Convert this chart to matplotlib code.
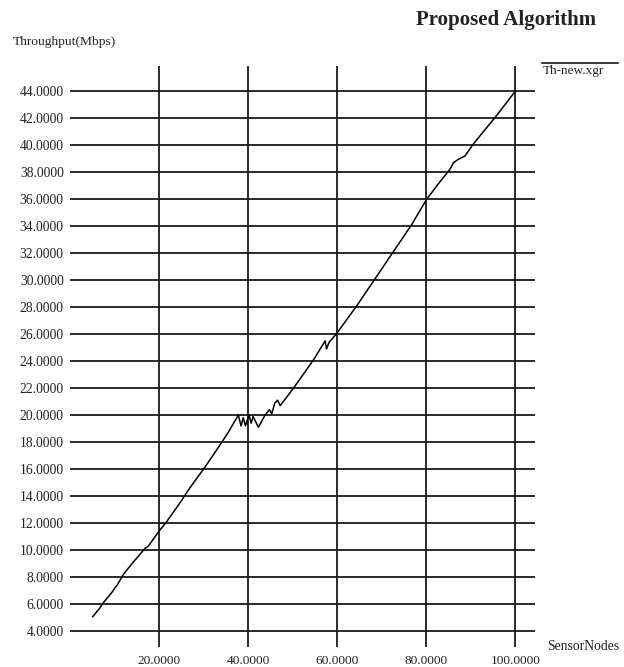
import matplotlib
matplotlib.use("Agg")
import matplotlib.pyplot as plt
from matplotlib.lines import Line2D

# Th-new.xgr trace: sensor nodes vs throughput
nodes = [5.1, 6.7, 7.5, 9.5, 10.1, 10.6, 12.0, 14.2, 16.8, 17.2, 17.6, 20.0, 21.7,
         24.7, 26.9, 30.0, 32.9, 35.5, 37.8, 38.4, 38.9, 39.4, 40.2, 40.7, 41.1,
         42.3, 43.8, 44.8, 45.3, 46.0, 46.6, 47.2, 48.6, 50.2, 53.2, 54.7, 57.3,
         57.6, 58.2, 60.0, 64.4, 68.5, 72.6, 76.7, 80.1, 83.1, 85.3, 86.1, 87.2,
         88.7, 90.6, 95.8, 100.0]
throughput = [5.06, 5.7, 6.1, 6.9, 7.2, 7.4, 8.2, 9.1, 10.1, 10.2, 10.3, 11.4, 12.1,
              13.5, 14.6, 16.0, 17.4, 18.7, 20.0, 19.2, 19.8, 19.2, 20.0, 19.4, 19.9,
              19.1, 20.0, 20.4, 20.1, 20.9, 21.1, 20.7, 21.3, 22.0, 23.4, 24.1, 25.5,
              24.9, 25.4, 26.1, 28.1, 30.1, 32.1, 34.1, 36.0, 37.3, 38.2, 38.7, 38.95,
              39.2, 40.1, 42.2, 44.0]

xticks = [20, 40, 60, 80, 100]
yticks = list(range(4, 45, 2))

serif = "Liberation Serif"

fig = plt.figure(figsize=(6.24, 6.67), dpi=100)
ax = fig.add_axes([0.1122, 0.0237, 0.785, 0.880])
ax.set_xlim(0, 110)
ax.set_ylim(2.5, 46)
for s in ax.spines.values():
    s.set_visible(False)

# xgraph style grid: full width horizontals, tall verticals
ax.hlines(yticks, 0, 104.5, colors="#1a1a1a", linewidth=1.3)
ax.vlines(xticks, 2.8, 45.9, colors="#1a1a1a", linewidth=1.3)

ax.plot(nodes, throughput, color="black", linewidth=1.1)

ax.set_xticks(xticks)
ax.set_xticklabels(["%.4f" % v for v in xticks], fontfamily=serif, fontsize=9.6)
ax.set_yticks(yticks)
ax.set_yticklabels(["%.4f" % v for v in yticks], fontfamily=serif, fontsize=9.8)
ax.tick_params(axis="both", length=0, colors="#222222")
ax.tick_params(axis="x", pad=3)
ax.tick_params(axis="y", pad=4.5)

fig.text(596 / 624, 1 - 20 / 667, "Proposed Algorithm", ha="right", va="center",
         fontfamily=serif, fontsize=15, fontweight="bold", color="#222222")
fig.text(13 / 624, 1 - 42 / 667, "Throughput(Mbps)", ha="left", va="center",
         fontfamily=serif, fontsize=9.7, color="#222222")
fig.text(547 / 624, 1 - 646 / 667, "SensorNodes", ha="left", va="center",
         fontfamily=serif, fontsize=9.8, color="#222222")

# legend entry: line sample above the file name
fig.add_artist(Line2D([542 / 624, 618 / 624], [1 - 62.5 / 667] * 2,
                      transform=fig.transFigure, color="black", linewidth=1.1))
fig.text(543 / 624, 1 - 71 / 667, "Th-new.xgr", ha="left", va="center",
         fontfamily=serif, fontsize=9.5, color="#222222")

fig.savefig("out.png", dpi=100, facecolor="white")
